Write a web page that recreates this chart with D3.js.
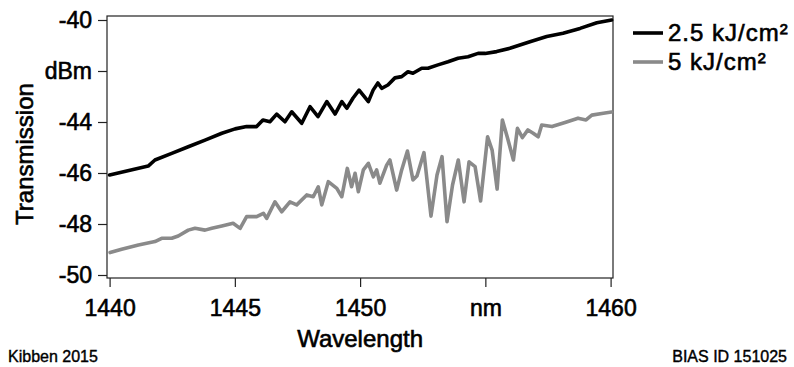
<!DOCTYPE html>
<html>
<head>
<meta charset="utf-8">
<script src="https://cdn.jsdelivr.net/npm/d3@7"></script>
<style>
  body { margin: 0; background: #fff; }
  svg { display: block; font-family: "Liberation Sans", Arial, Helvetica, sans-serif; }
  text { fill: #000; stroke: #000; stroke-width: 0.6px; }
</style>
</head>
<body>
<div id="chart"></div>
<script>
// wavelength (nm) / transmission (dBm)
var nm25 = [1440.0, 1441.54, 1441.81, 1442.48, 1443.14, 1443.81, 1444.48, 1445.01, 1445.47, 1445.87,
  1446.12, 1446.40, 1446.67, 1447.00, 1447.27, 1447.67, 1448.00, 1448.32, 1448.67, 1449.00,
  1449.27, 1449.47, 1449.72, 1449.96, 1450.33, 1450.52, 1450.71, 1450.86, 1451.11, 1451.39,
  1451.66, 1451.91, 1452.11, 1452.46, 1452.71, 1453.11, 1453.51, 1453.91, 1454.31, 1454.71,
  1454.99, 1455.45, 1455.98, 1456.38, 1456.78, 1457.45, 1458.10, 1458.78, 1459.45, 1460.04];
var dbm25 = [-46.08, -45.73, -45.49, -45.23, -44.97, -44.71, -44.44, -44.27, -44.18, -44.18,
  -43.92, -43.99, -43.69, -43.99, -43.60, -44.05, -43.40, -43.79, -43.20, -43.69,
  -43.20, -43.46, -43.06, -42.75, -43.20, -42.75, -42.47, -42.68, -42.55, -42.27,
  -42.22, -42.03, -42.09, -41.89, -41.89, -41.76, -41.64, -41.50, -41.44, -41.31,
  -41.31, -41.24, -41.11, -40.98, -40.85, -40.65, -40.52, -40.33, -40.11, -40.00];

var nm5 = [1440.02, 1440.48, 1441.15, 1441.81, 1442.08, 1442.48, 1442.74, 1443.14, 1443.41, 1443.81,
  1444.08, 1444.48, 1444.93, 1445.21, 1445.47, 1445.87, 1446.14, 1446.27, 1446.60, 1446.87,
  1447.20, 1447.47, 1447.87, 1448.13, 1448.33, 1448.47, 1448.73, 1449.07, 1449.27, 1449.49,
  1449.66, 1449.80, 1449.93, 1450.13, 1450.33, 1450.53, 1450.66, 1450.79, 1451.06, 1451.19,
  1451.46, 1451.66, 1451.89, 1452.11, 1452.27, 1452.55, 1452.83, 1453.07, 1453.27, 1453.47,
  1453.69, 1453.92, 1454.15, 1454.35, 1454.59, 1454.81, 1455.09, 1455.27, 1455.47, 1455.68,
  1455.88, 1456.12, 1456.28, 1456.48, 1456.70, 1456.91, 1457.11, 1457.25, 1457.66, 1458.18,
  1458.70, 1459.02, 1459.25, 1459.71, 1460.04];
var dbm5 = [-49.12, -48.99, -48.82, -48.69, -48.56, -48.56, -48.47, -48.24, -48.17, -48.24,
  -48.17, -48.08, -47.97, -48.17, -47.71, -47.71, -47.58, -47.78, -47.13, -47.52,
  -47.13, -47.25, -46.86, -46.93, -46.54, -47.25, -46.34, -46.60, -46.93, -45.82,
  -46.54, -46.01, -46.73, -45.88, -45.62, -46.15, -45.88, -46.40, -45.69, -45.49,
  -46.67, -45.88, -45.14, -46.27, -46.12, -45.20, -47.69, -46.08, -45.36, -47.91,
  -46.47, -45.49, -47.13, -45.56, -45.75, -47.10, -44.58, -45.10, -46.63, -43.92,
  -44.61, -45.49, -44.25, -44.61, -44.31, -44.44, -44.58, -44.12, -44.18, -44.02,
  -43.85, -43.92, -43.73, -43.66, -43.61];

var xTicks = [1440, 1445, 1450, 1455, 1460];
var xLabels = ["1440", "1445", "1450", "nm", "1460"];
var yTicks = [-50, -48, -46, -44, -42, -40];
var yLabels = ["-50", "-48", "-46", "-44", "dBm", "-40"];

var seriesNames = ["2.5 kJ/cm\u00b2", "5 kJ/cm\u00b2"];
var seriesColors = ["#000000", "#8a8a8a"];

var width = 794, height = 367;
// plot frame
var fl = 107, ft = 16, fr = 613, fb = 278;

var svg = d3.select("#chart").append("svg")
  .attr("width", width)
  .attr("height", height);

svg.append("rect").attr("width", width).attr("height", height).attr("fill", "#fff");

var x = d3.scaleLinear().domain([1440, 1460]).range([109.6, 610.6]);
var y = d3.scaleLinear().domain([-50, -40]).range([275, 20]);

svg.append("rect")
  .attr("x", fl).attr("y", ft)
  .attr("width", fr - fl).attr("height", fb - ft)
  .attr("fill", "none").attr("stroke", "#222").attr("stroke-width", 1.2);

var yAxis = svg.append("g")
  .attr("transform", "translate(" + fl + ",0)")
  .call(d3.axisLeft(y).tickValues(yTicks).tickSize(9).tickPadding(6)
    .tickFormat(function (d, i) { return yLabels[i]; }));

var xAxis = svg.append("g")
  .attr("transform", "translate(0," + fb + ")")
  .call(d3.axisBottom(x).tickValues(xTicks).tickSize(9).tickPadding(13)
    .tickFormat(function (d, i) { return xLabels[i]; }));

[yAxis, xAxis].forEach(function (g) {
  g.select(".domain").remove();
  g.selectAll(".tick line").attr("stroke", "#222").attr("stroke-width", 1.2);
  g.selectAll(".tick text")
    .attr("fill", "#000")
    .style("font-size", "23px")
    .style("font-family", "'Liberation Sans', Arial, sans-serif");
});

var line = d3.line()
  .x(function (d) { return x(d[0]); })
  .y(function (d) { return y(d[1]); });

var series = [d3.zip(nm25, dbm25), d3.zip(nm5, dbm5)];

// grey first so black is on top
[1, 0].forEach(function (i) {
  svg.append("path")
    .datum(series[i])
    .attr("d", line)
    .attr("fill", "none")
    .attr("stroke", seriesColors[i])
    .attr("stroke-width", 3.6)
    .attr("stroke-linejoin", "round")
    .attr("stroke-linecap", "round");
});

// axis titles
svg.append("text")
  .attr("transform", "translate(33,154) rotate(-90)")
  .attr("text-anchor", "middle")
  .style("font-size", "24px")
  .text("Transmission");

svg.append("text")
  .attr("x", x(1450))
  .attr("y", 347)
  .attr("text-anchor", "middle")
  .style("font-size", "24px")
  .text("Wavelength");

// legend
var legend = svg.selectAll(".legend")
  .data(seriesNames)
  .enter().append("g")
  .attr("class", "legend")
  .attr("transform", function (d, i) { return "translate(633," + (33 + i * 29) + ")"; });

legend.append("line")
  .attr("x1", 0).attr("x2", 30)
  .attr("stroke", function (d, i) { return seriesColors[i]; })
  .attr("stroke-width", 3.6);

legend.append("text")
  .attr("x", 35)
  .attr("dy", "0.35em")
  .style("font-size", "24px")
  .style("letter-spacing", "1px")
  .text(function (d) { return d; });

// notes
svg.append("text")
  .attr("x", 8).attr("y", 362)
  .style("font-size", "16px")
  .style("stroke-width", "0.4px")
  .text("Kibben 2015");

svg.append("text")
  .attr("x", 787).attr("y", 362)
  .attr("text-anchor", "end")
  .style("font-size", "16px")
  .style("stroke-width", "0.4px")
  .text("BIAS ID 151025");
</script>
</body>
</html>
